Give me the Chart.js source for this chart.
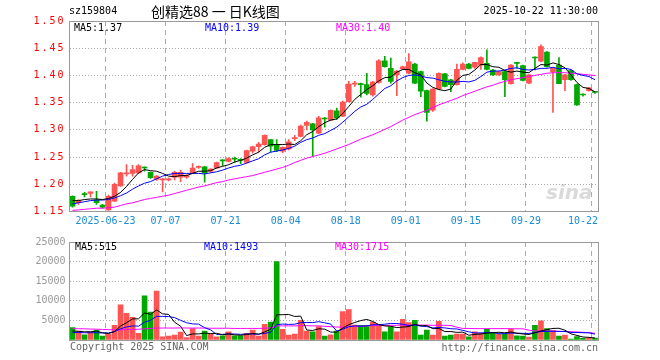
<!DOCTYPE html>
<html lang="zh">
<head>
<meta charset="UTF-8">
<title>创精选88 日K线图</title>
<script src="https://cdn.jsdelivr.net/npm/chart.js"></script>
<style>
    body { margin: 0; background: #fff; }
    #wrap { position: relative; width: 660px; height: 360px; overflow: hidden; font-family: "DejaVu Sans Mono", monospace; font-size: 10px; color: #000; }
    #wrap canvas { position: absolute; left: 0; }
    .t { position: absolute; white-space: nowrap; line-height: 12px; }
    .r { text-align: right; }
</style>
</head>
<body>
<div id="wrap">
    <canvas id="kline" width="660" height="232" style="top:0"></canvas>
    <canvas id="vol" width="660" height="128" style="top:232px"></canvas>

    <div class="t" style="left:69px;top:5px;">sz159804</div>
    <div class="t" style="left:151px;top:3px;font-family:'Noto Sans CJK SC';font-size:14px;line-height:16px;">创精选88 一 日K线图</div>
    <div class="t r" style="right:62px;top:5px;">2025-10-22 11:30:00</div>

    <div class="t" style="left:74px;top:22px;">MA5:1.37</div>
    <div class="t" style="left:205px;top:22px;color:#00f;">MA10:1.39</div>
    <div class="t" style="left:336px;top:22px;color:#f0f;">MA30:1.40</div>

    <div class="t" style="left:546px;top:181px;font-family:'DejaVu Sans';font-style:italic;font-weight:bold;font-size:20px;line-height:22px;color:rgba(150,150,150,0.35);">sina</div>

    <div class="t" style="left:75px;top:241px;">MA5:515</div>
    <div class="t" style="left:204px;top:241px;color:#00f;">MA10:1493</div>
    <div class="t" style="left:335px;top:241px;color:#f0f;">MA30:1715</div>

    <div class="t" style="left:70px;top:341px;color:#666;">Copyright 2025 SINA.COM</div>
    <div class="t r" style="right:62px;top:342px;color:#666;">http://finance.sina.com.cn</div>
</div>

<script>
    // trading days shown (MM-DD)
    const dates = [
        '06-13','06-16','06-17','06-18','06-19','06-20','06-23','06-24','06-25','06-26','06-27','06-30',
        '07-01','07-02','07-03','07-04','07-07','07-08','07-09','07-10','07-11','07-14','07-15','07-16',
        '07-17','07-18','07-21','07-22','07-23','07-24','07-25','07-28','07-29','07-30','07-31',
        '08-01','08-04','08-05','08-06','08-07','08-08','08-11','08-12','08-13','08-14','08-15',
        '08-18','08-19','08-20','08-21','08-22','08-25','08-26','08-27','08-28','08-29',
        '09-01','09-02','09-03','09-04','09-05','09-08','09-09','09-10','09-11','09-12',
        '09-15','09-16','09-17','09-18','09-19','09-22','09-23','09-24','09-25','09-26','09-29','09-30',
        '10-09','10-10','10-13','10-14','10-15','10-16','10-17','10-20','10-21','10-22'
    ];

    // x tick labels and the candle they sit on
    const tickIndex = [6, 16, 26, 36, 46, 56, 66, 76, 87];
    const tickText = ['2025-06-23','07-07','07-21','08-04','08-18','09-01','09-15','09-29','10-22'];

    const open = [
        1.178, 1.166, 1.182, 1.183, 1.171, 1.162, 1.153, 1.169, 1.197, 1.219,
        1.220, 1.221, 1.231, 1.222, 1.209, 1.208, 1.208, 1.213, 1.213, 1.213,
        1.221, 1.231, 1.232, 1.224, 1.230, 1.244, 1.242, 1.247, 1.245, 1.240,
        1.261, 1.269, 1.273, 1.282, 1.273, 1.261, 1.265, 1.284, 1.288, 1.308,
        1.311, 1.294, 1.321, 1.318, 1.335, 1.325, 1.352, 1.384, 1.384, 1.383,
        1.364, 1.387, 1.427, 1.413, 1.401, 1.412, 1.404, 1.421, 1.407, 1.372,
        1.336, 1.375, 1.403, 1.392, 1.383, 1.411, 1.421, 1.415, 1.419, 1.422,
        1.410, 1.401, 1.407, 1.385, 1.423, 1.418, 1.386, 1.433, 1.426, 1.443,
        1.407, 1.419, 1.392, 1.409, 1.383, 1.365, 1.372, 1.370
    ];
    const high = [
        1.179, 1.172, 1.185, 1.186, 1.187, 1.163, 1.180, 1.202, 1.222, 1.236,
        1.235, 1.236, 1.232, 1.223, 1.216, 1.211, 1.212, 1.224, 1.226, 1.218,
        1.238, 1.234, 1.233, 1.229, 1.241, 1.245, 1.249, 1.250, 1.247, 1.263,
        1.270, 1.277, 1.291, 1.282, 1.282, 1.269, 1.282, 1.290, 1.309, 1.316,
        1.312, 1.325, 1.323, 1.337, 1.340, 1.353, 1.389, 1.389, 1.386, 1.404,
        1.389, 1.429, 1.435, 1.432, 1.409, 1.417, 1.440, 1.422, 1.408, 1.373,
        1.376, 1.405, 1.404, 1.393, 1.421, 1.423, 1.422, 1.424, 1.434, 1.447,
        1.411, 1.408, 1.408, 1.420, 1.424, 1.419, 1.402, 1.434, 1.456, 1.444,
        1.414, 1.433, 1.402, 1.410, 1.384, 1.366, 1.378, 1.371
    ];
    const low = [
        1.158, 1.163, 1.177, 1.177, 1.163, 1.156, 1.152, 1.168, 1.196, 1.215,
        1.215, 1.220, 1.224, 1.211, 1.207, 1.186, 1.206, 1.208, 1.205, 1.211,
        1.220, 1.229, 1.204, 1.222, 1.229, 1.234, 1.241, 1.240, 1.238, 1.239,
        1.257, 1.259, 1.272, 1.259, 1.260, 1.258, 1.263, 1.280, 1.287, 1.300,
        1.251, 1.293, 1.305, 1.317, 1.319, 1.324, 1.351, 1.380, 1.360, 1.364,
        1.362, 1.386, 1.415, 1.386, 1.363, 1.411, 1.403, 1.385, 1.361, 1.316,
        1.334, 1.374, 1.379, 1.370, 1.382, 1.410, 1.412, 1.413, 1.411, 1.410,
        1.400, 1.400, 1.361, 1.384, 1.413, 1.390, 1.385, 1.410, 1.425, 1.415,
        1.332, 1.385, 1.372, 1.391, 1.345, 1.362, 1.371, 1.367
    ];
    const close = [
        1.160, 1.170, 1.181, 1.186, 1.166, 1.158, 1.178, 1.200, 1.221, 1.221,
        1.227, 1.234, 1.230, 1.212, 1.215, 1.209, 1.210, 1.222, 1.222, 1.216,
        1.230, 1.232, 1.221, 1.228, 1.240, 1.243, 1.247, 1.246, 1.244, 1.262,
        1.269, 1.274, 1.290, 1.270, 1.262, 1.268, 1.278, 1.286, 1.307, 1.314,
        1.300, 1.322, 1.320, 1.336, 1.322, 1.351, 1.384, 1.385, 1.383, 1.367,
        1.388, 1.427, 1.416, 1.389, 1.408, 1.416, 1.425, 1.386, 1.371, 1.332,
        1.375, 1.404, 1.380, 1.383, 1.411, 1.421, 1.413, 1.424, 1.433, 1.411,
        1.401, 1.407, 1.392, 1.419, 1.422, 1.391, 1.401, 1.432, 1.453, 1.416,
        1.413, 1.385, 1.401, 1.392, 1.346, 1.364, 1.377, 1.369
    ];

    // price moving averages as drawn on the chart
    const ma5 = [
        1.170, 1.170, 1.172, 1.173, 1.173, 1.172, 1.174, 1.178, 1.185, 1.196,
        1.209, 1.221, 1.227, 1.225, 1.224, 1.220, 1.215, 1.214, 1.216, 1.216,
        1.220, 1.224, 1.224, 1.225, 1.230, 1.233, 1.236, 1.241, 1.244, 1.248,
        1.254, 1.259, 1.268, 1.273, 1.273, 1.273, 1.274, 1.273, 1.280, 1.291,
        1.297, 1.306, 1.313, 1.318, 1.320, 1.330, 1.343, 1.356, 1.365, 1.374,
        1.381, 1.390, 1.396, 1.397, 1.406, 1.411, 1.411, 1.405, 1.401, 1.386,
        1.378, 1.374, 1.372, 1.375, 1.391, 1.400, 1.402, 1.410, 1.420, 1.420,
        1.416, 1.415, 1.409, 1.406, 1.408, 1.406, 1.405, 1.413, 1.420, 1.419,
        1.423, 1.420, 1.414, 1.401, 1.387, 1.378, 1.376, 1.370
    ];
    const ma10 = [
        1.164, 1.166, 1.168, 1.170, 1.171, 1.171, 1.172, 1.175, 1.179, 1.184,
        1.191, 1.197, 1.202, 1.205, 1.210, 1.215, 1.218, 1.220, 1.220, 1.220,
        1.220, 1.220, 1.219, 1.221, 1.223, 1.226, 1.230, 1.233, 1.235, 1.239,
        1.243, 1.247, 1.254, 1.259, 1.261, 1.263, 1.266, 1.270, 1.277, 1.282,
        1.285, 1.290, 1.293, 1.299, 1.305, 1.314, 1.324, 1.334, 1.342, 1.347,
        1.356, 1.366, 1.376, 1.381, 1.390, 1.396, 1.400, 1.401, 1.399, 1.396,
        1.395, 1.392, 1.389, 1.388, 1.388, 1.389, 1.388, 1.391, 1.398, 1.406,
        1.408, 1.408, 1.410, 1.413, 1.414, 1.411, 1.410, 1.411, 1.413, 1.413,
        1.415, 1.412, 1.413, 1.411, 1.403, 1.400, 1.398, 1.392
    ];
    const ma30 = [
        1.152, 1.153, 1.154, 1.155, 1.156, 1.156, 1.157, 1.158, 1.161, 1.164,
        1.166, 1.169, 1.172, 1.174, 1.176, 1.178, 1.180, 1.183, 1.186, 1.189,
        1.192, 1.195, 1.197, 1.200, 1.203, 1.205, 1.208, 1.210, 1.212, 1.214,
        1.216, 1.219, 1.222, 1.225, 1.228, 1.231, 1.235, 1.240, 1.244, 1.248,
        1.251, 1.254, 1.257, 1.261, 1.265, 1.269, 1.273, 1.278, 1.283, 1.287,
        1.291, 1.296, 1.301, 1.306, 1.312, 1.318, 1.323, 1.328, 1.332, 1.336,
        1.341, 1.346, 1.350, 1.354, 1.358, 1.363, 1.367, 1.371, 1.375, 1.379,
        1.382, 1.386, 1.389, 1.392, 1.394, 1.396, 1.398, 1.400, 1.402, 1.404,
        1.405, 1.405, 1.405, 1.404, 1.403, 1.402, 1.401, 1.400
    ];

    const volume = [
        3200, 2300, 1300, 2000, 2500, 1000, 1500, 3750, 9000, 6800,
        5800, 1700, 11250, 7100, 12500, 830, 1000, 1250, 2000, 600,
        2900, 1000, 2250, 1500, 830, 1080, 2080, 1080, 1080, 1670,
        2500, 1000, 4000, 4580, 20000, 2700, 1250, 1500, 5000, 2300,
        2100, 3400, 1000, 1300, 2250, 7250, 7750, 3800, 3750, 3750,
        4580, 3750, 2080, 3330, 2080, 5250, 4420, 5000, 1250, 2500,
        1250, 4750, 1000, 1250, 1500, 1500, 830, 2080, 1670, 2750,
        1920, 1420, 1420, 2750, 1080, 1000, 750, 3750, 4900, 2920,
        2420, 1000, 1250, 250, 900, 400, 550, 480
    ];
    const vma5 = [
        2300, 2200, 2100, 2100, 2260, 1820, 1660, 2150, 3550, 4410,
        5370, 5410, 6910, 6530, 7670, 6676, 6536, 4536, 3516, 1136,
        1550, 1550, 1750, 1650, 1696, 1332, 1548, 1314, 1230, 1398,
        1682, 1466, 2050, 2750, 6416, 6456, 6506, 6006, 6090, 2550,
        2430, 2860, 2760, 2020, 2010, 3040, 3910, 4470, 4960, 5260,
        4726, 3926, 3582, 3498, 3164, 3298, 3432, 4016, 3600, 3684,
        2884, 2950, 2150, 2150, 1950, 2000, 1216, 1432, 1516, 1766,
        1850, 1968, 1836, 2052, 1718, 1534, 1400, 1866, 2296, 2664,
        2948, 2998, 2498, 1568, 1164, 760, 670, 515
    ];
    const vma10 = [
        1900, 1900, 1850, 1850, 1850, 1800, 1800, 2150, 2850, 3335,
        3595, 3535, 4530, 5040, 6040, 6023, 5973, 5723, 5023, 4403,
        4113, 4043, 3143, 2583, 1416, 1441, 1549, 1532, 1440, 1547,
        1507, 1507, 1682, 1990, 3907, 4069, 3986, 4028, 4420, 4483,
        4443, 4683, 4383, 4055, 2280, 2735, 3385, 3615, 3490, 3635,
        3883, 3918, 4026, 4229, 4212, 4012, 3679, 3799, 3549, 3424,
        3091, 3191, 3083, 2875, 2817, 2442, 2083, 1791, 1833, 1858,
        1925, 1592, 1634, 1784, 1742, 1692, 1684, 1851, 2174, 2191,
        2241, 2199, 2182, 1932, 1914, 1854, 1835, 1493
    ];
    const vma30 = [
        2900, 2880, 2850, 2800, 2750, 2700, 2650, 2600, 2600, 2650,
        2700, 2750, 2850, 2950, 3050, 3050, 3050, 3050, 3100, 3050,
        3050, 3050, 3050, 3000, 3000, 3000, 3000, 2950, 2950, 2950,
        2950, 2950, 3000, 3100, 3600, 3600, 3600, 3600, 3700, 3650,
        3600, 3600, 3500, 3400, 3300, 3300, 3400, 3500, 3500, 3600,
        3700, 3750, 3700, 3750, 3750, 3800, 3800, 3850, 3800, 3800,
        3750, 3750, 3750, 3700, 3250, 2950, 2950, 2900, 2900, 2900,
        2900, 2900, 2900, 2900, 2850, 2850, 2500, 2300, 2300, 2300,
        2250, 2200, 2150, 2100, 2050, 1950, 1850, 1715
    ];

    const UP = '#ff5454';
    const DOWN = '#00a800';
    const GRID = '#aaa';
    const MONO = 'DejaVu Sans Mono';

    const colors = close.map((c, i) => c >= open[i] ? UP : DOWN);

    Chart.defaults.font.family = MONO;
    Chart.defaults.font.size = 10;

    // solid frame round the plot area
    const frame = {
        id: 'frame',
        afterDraw(chart) {
            const { ctx, chartArea: a } = chart;
            const l = Math.floor(a.left) + 0.5, r = Math.floor(a.right) + 0.5;
            const t = Math.floor(a.top) + 0.5, b = Math.floor(a.bottom) + 0.5;
            ctx.save();
            ctx.strokeStyle = '#999';
            ctx.lineWidth = 1;
            ctx.strokeRect(l, t, r - l, b - t);
            ctx.restore();
        }
    };

    // price tick labels are spaced wider in the original
    const wideTicks = {
        id: 'wideTicks',
        beforeDraw(chart) { chart.ctx.letterSpacing = '2px'; },
        beforeDatasetsDraw(chart) { chart.ctx.letterSpacing = '0px'; }
    };

    // date labels under the price panel, placed on the x scale
    const dateLabels = {
        id: 'dateLabels',
        afterDraw(chart) {
            const { ctx, chartArea: a } = chart;
            const xs = chart.scales.x;
            const half = (xs.getPixelForValue(1) - xs.getPixelForValue(0)) / 2;
            ctx.save();
            ctx.font = '10px ' + MONO;
            ctx.fillStyle = '#1a8cd8';
            ctx.textBaseline = 'middle';
            tickIndex.forEach((idx, k) => {
                const x = xs.getPixelForValue(idx) - half;
                const w = ctx.measureText(tickText[k]).width;
                if (x + w / 2 > a.right) {
                    ctx.textAlign = 'right';
                    ctx.fillText(tickText[k], a.right, 221);
                } else {
                    ctx.textAlign = 'center';
                    ctx.fillText(tickText[k], x, 221);
                }
            });
            ctx.restore();
        }
    };

    function lineSet(data, color) {
        return { type: 'line', data: data, borderColor: color, borderWidth: 1, pointRadius: 0, tension: 0, order: 0 };
    }

    function xAxis(h) {
        return {
            offset: true,
            grid: {
                offset: true,
                drawTicks: false,
                color: ctx => tickIndex.includes(ctx.index) ? GRID : 'rgba(0,0,0,0)'
            },
            border: { display: false, dash: [5, 4] },
            ticks: { display: false },
            afterFit: s => { s.height = h; }
        };
    }

    new Chart(document.getElementById('kline'), {
        type: 'bar',
        data: {
            labels: dates,
            datasets: [
                lineSet(ma5, '#000'),
                lineSet(ma10, '#00f'),
                lineSet(ma30, '#f0f'),
                {
                    data: open.map((o, i) => [o, close[i]]),
                    backgroundColor: colors,
                    barThickness: 5,
                    minBarLength: 1,
                    grouped: false,
                    order: 1
                },
                {
                    data: low.map((l, i) => [l, high[i]]),
                    backgroundColor: colors,
                    barThickness: 1,
                    grouped: false,
                    order: 2
                }
            ]
        },
        options: {
            responsive: false,
            animation: false,
            events: [],
            layout: { padding: { left: 0, right: 62, top: 21, bottom: 0 } },
            plugins: { legend: { display: false }, tooltip: { enabled: false } },
            scales: {
                x: xAxis(20.5),
                y: {
                    min: 1.15,
                    max: 1.50,
                    ticks: { stepSize: 0.05, color: '#f00', padding: 4, callback: v => v.toFixed(2) },
                    grid: { drawTicks: false, color: GRID },
                    border: { display: false, dash: [1, 2] },
                    afterFit: s => { s.width = 69.5; }
                }
            }
        },
        plugins: [wideTicks, frame, dateLabels]
    });

    new Chart(document.getElementById('vol'), {
        type: 'bar',
        data: {
            labels: dates,
            datasets: [
                lineSet(vma5, '#000'),
                lineSet(vma10, '#00f'),
                lineSet(vma30, '#f0f'),
                {
                    data: volume,
                    backgroundColor: colors,
                    barThickness: 5,
                    grouped: false,
                    order: 1
                }
            ]
        },
        options: {
            responsive: false,
            animation: false,
            events: [],
            layout: { padding: { left: 0, right: 62, top: 8, bottom: 0 } },
            plugins: { legend: { display: false }, tooltip: { enabled: false } },
            scales: {
                x: xAxis(20),
                y: {
                    min: 0,
                    max: 25000,
                    ticks: { stepSize: 5000, color: '#999', padding: 4, callback: v => v === 0 ? '' : String(v) },
                    grid: { drawTicks: false, color: GRID },
                    border: { display: false, dash: [1, 2] },
                    afterFit: s => { s.width = 69.5; }
                }
            }
        },
        plugins: [frame]
    });
</script>
</body>
</html>
